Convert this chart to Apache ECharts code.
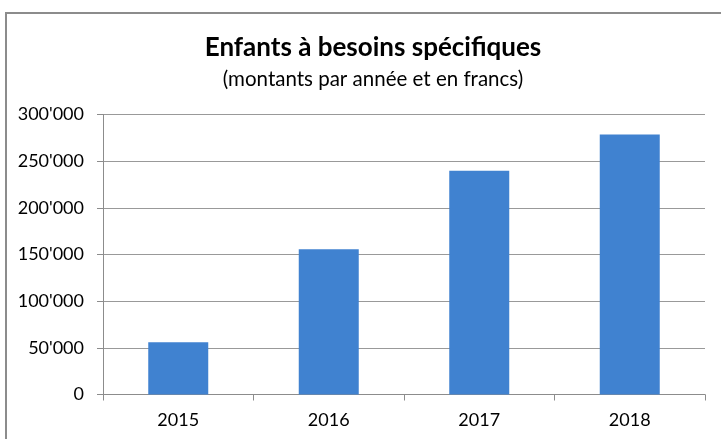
<!DOCTYPE html>
<html>
<head>
<meta charset="utf-8">
<script src="https://cdn.jsdelivr.net/npm/echarts@6/dist/echarts.min.js"></script>
<style>
  html, body { margin: 0; padding: 0; background: #fff; }
  #chart { width: 721px; height: 439px; }
</style>
</head>
<body>
<div id="chart"></div>
<script>
const years = ['2015', '2016', '2017', '2018']
const amounts = [56000, 155600, 239700, 278500]
const yTicks = [0, 50000, 100000, 150000, 200000, 250000, 300000]

const titleText = 'Enfants à besoins spécifiques'
const subtitleText = '(montants par année et en francs)'

function formatAmount(value) {
  return String(value).replace(/\B(?=(\d{3})+(?!\d))/g, "'")
}

const chart = echarts.init(document.getElementById('chart'), null, { renderer: 'canvas' })

chart.setOption({
  animation: false,
  backgroundColor: '#fff',
  graphic: [{
    type: 'rect',
    shape: { x: 6, y: 13, width: 740, height: 460 },
    style: { fill: 'none', stroke: '#8c8c8c', lineWidth: 2 },
    silent: true,
  }],
  title: {
    text: titleText,
    subtext: subtitleText,
    left: 368,
    top: 30,
    textAlign: 'center',
    itemGap: 8,
    textStyle: { fontFamily: 'Lato', fontWeight: 'bold', fontSize: 26, color: '#000' },
    subtextStyle: { fontFamily: 'Lato', fontSize: 20.5, color: '#000' },
  },
  grid: { left: 103, right: 16, top: 114.5, bottom: 44.5 },
  xAxis: {
    type: 'category',
    data: years,
    axisLine: { lineStyle: { color: '#8c8c8c', width: 1 } },
    axisTick: { show: true, length: 6, lineStyle: { color: '#8c8c8c' } },
    axisLabel: { color: '#000', fontFamily: 'Lato', fontSize: 18, margin: 17 },
  },
  yAxis: {
    type: 'value',
    min: yTicks[0],
    max: yTicks[yTicks.length - 1],
    interval: yTicks[1] - yTicks[0],
    axisLine: { show: true, lineStyle: { color: '#8c8c8c', width: 1 } },
    axisTick: { show: true, length: 6, lineStyle: { color: '#8c8c8c' } },
    axisLabel: { color: '#000', fontFamily: 'Lato', fontSize: 18, margin: 19, formatter: formatAmount },
    splitLine: { lineStyle: { color: '#999', width: 1 } },
  },
  series: [{
    type: 'bar',
    data: amounts,
    barWidth: 60,
    itemStyle: { color: '#4082d0' },
  }],
})
</script>
</body>
</html>
